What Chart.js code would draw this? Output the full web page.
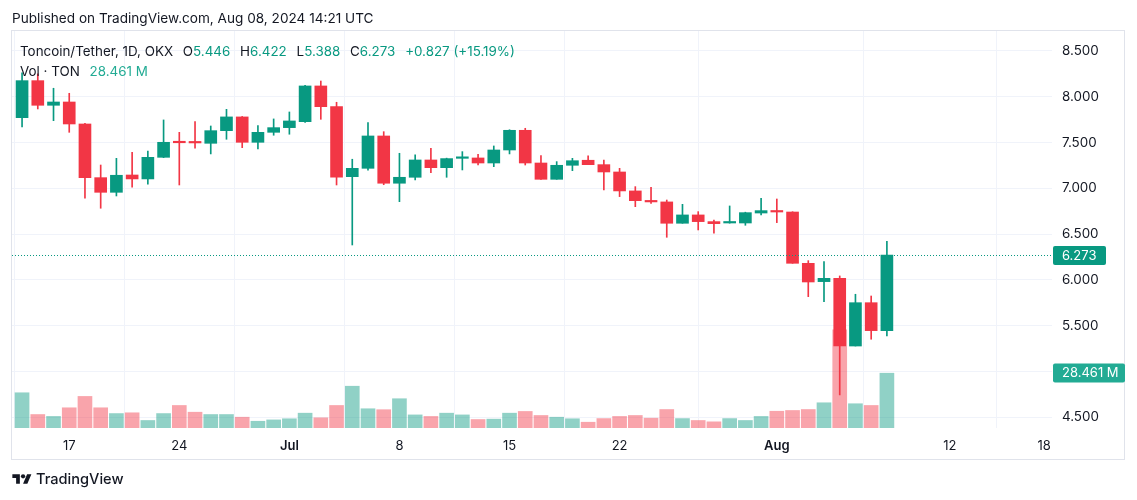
<!DOCTYPE html>
<html><head><meta charset="utf-8">
<script src="https://cdn.jsdelivr.net/npm/chart.js@4.4.1/dist/chart.umd.min.js"></script>
<style>
html,body{margin:0;padding:0;background:#fff;}
body{width:1137px;height:500px;position:relative;overflow:hidden;font-family:Inter,"Noto Sans",sans-serif;color:#131722;}
#wrap{position:absolute;left:0;top:0;width:1137px;height:500px;}
.t{position:absolute;white-space:nowrap;line-height:1;}
#pub{left:12px;top:12px;font-size:13.6px;}
#leg1{left:20px;top:45px;font-size:13.4px;}
#leg2{left:20px;top:65px;font-size:13.4px;}
.g{color:#089981;}
.vg{color:#22ab94;}
.sp{margin-left:6px;}
#foot{left:12px;top:472px;font-size:14.6px;font-weight:500;display:flex;align-items:center;}
#foot svg{margin-right:4px;}
</style>
</head><body>
<div id="wrap"><canvas id="c" width="1137" height="500"></canvas></div>
<div class="t" id="pub">Published on TradingView.com, Aug 08, 2024 14:21 UTC</div>
<div class="t" id="leg1">Toncoin/Tether, 1D, OKX <span class="sp">O</span><span class="g">5.446</span> <span class="sp">H</span><span class="g">6.422</span> <span class="sp">L</span><span class="g">5.388</span> <span class="sp">C</span><span class="g">6.273</span> <span class="g sp">+0.827 (+15.19%)</span></div>
<div class="t" id="leg2">Vol · TON <span class="vg sp">28.461 M</span></div>
<div class="t" id="foot"><svg width="20" height="15" viewBox="0 0 36 28"><path fill="#131722" d="M14 22H7V11H0V4h14v18zM28 22h-8l7.5-18h8L28 22z"/><circle fill="#131722" cx="20" cy="8" r="4"/></svg>TradingView</div>
<script>
const dates = ["2024-06-14","2024-06-15","2024-06-16","2024-06-17","2024-06-18","2024-06-19","2024-06-20","2024-06-21","2024-06-22","2024-06-23","2024-06-24","2024-06-25","2024-06-26","2024-06-27","2024-06-28","2024-06-29","2024-06-30","2024-07-01","2024-07-02","2024-07-03","2024-07-04","2024-07-05","2024-07-06","2024-07-07","2024-07-08","2024-07-09","2024-07-10","2024-07-11","2024-07-12","2024-07-13","2024-07-14","2024-07-15","2024-07-16","2024-07-17","2024-07-18","2024-07-19","2024-07-20","2024-07-21","2024-07-22","2024-07-23","2024-07-24","2024-07-25","2024-07-26","2024-07-27","2024-07-28","2024-07-29","2024-07-30","2024-07-31","2024-08-01","2024-08-02","2024-08-03","2024-08-04","2024-08-05","2024-08-06","2024-08-07","2024-08-08"];
const opens  = [7.772,8.176,7.907,7.943,7.703,7.117,6.957,7.146,7.103,7.339,7.512,7.510,7.492,7.630,7.780,7.503,7.612,7.663,7.728,8.118,7.892,7.128,7.219,7.572,7.056,7.121,7.310,7.226,7.328,7.332,7.277,7.419,7.634,7.277,7.099,7.252,7.307,7.259,7.179,6.972,6.866,6.852,6.619,6.710,6.637,6.622,6.622,6.731,6.757,6.742,6.182,5.982,6.018,5.279,5.752,5.446];
const highs  = [8.260,8.250,8.093,8.038,7.710,7.255,7.328,7.394,7.408,7.747,7.612,7.728,7.681,7.863,7.785,7.685,7.758,7.834,8.125,8.172,7.940,7.318,7.717,7.619,7.383,7.365,7.438,7.330,7.401,7.372,7.463,7.640,7.656,7.357,7.292,7.328,7.354,7.310,7.219,7.019,7.012,6.873,6.826,6.746,6.655,6.808,6.740,6.892,6.884,6.745,6.211,6.200,6.044,5.844,5.825,6.422];
const lows   = [7.670,7.867,7.739,7.612,6.892,6.783,6.917,7.012,7.045,7.335,7.037,7.438,7.376,7.536,7.444,7.430,7.580,7.591,7.720,7.754,7.037,6.382,7.200,7.040,6.855,7.092,7.171,7.121,7.201,7.255,7.237,7.376,7.255,7.099,7.099,7.193,7.259,6.983,6.910,6.800,6.837,6.466,6.619,6.546,6.510,6.620,6.597,6.710,6.626,6.182,5.818,5.763,4.745,5.279,5.353,5.388];
const closes = [8.176,7.907,7.943,7.703,7.117,6.957,7.143,7.103,7.339,7.503,7.498,7.496,7.630,7.780,7.503,7.612,7.663,7.736,8.118,7.892,7.121,7.219,7.572,7.056,7.121,7.310,7.226,7.325,7.340,7.277,7.419,7.634,7.277,7.099,7.252,7.302,7.259,7.179,6.972,6.866,6.852,6.619,6.710,6.637,6.615,6.633,6.735,6.757,6.742,6.182,5.978,6.018,5.279,5.752,5.447,6.273];
const volumes = [18.3,7.0,6.0,10.5,16.4,10.5,7.5,7.9,3.9,7.5,11.7,8.2,7.0,7.0,5.6,3.5,4.2,4.8,7.7,5.3,11.7,21.7,10.0,9.5,15.2,6.8,6.0,7.7,6.8,4.4,4.6,7.7,8.6,6.5,5.6,4.8,3.0,4.9,6.0,6.5,5.1,9.6,4.9,3.9,3.2,4.9,3.9,6.0,8.7,9.1,9.6,13.1,51.0,12.6,11.7,28.461];
const tickDates = ["2024-06-17","2024-06-24","2024-07-01","2024-07-08","2024-07-15","2024-07-22","2024-08-01","2024-08-12","2024-08-18"];
const tickLabels = ["17","24","Jul","8","15","22","Aug","12","18"];
const priceTicks = [4.5,5.0,5.5,6.0,6.5,7.0,7.5,8.0,8.5];

const UP = '#089981', DOWN = '#F23645';
const UPV = 'rgba(8,153,129,0.45)', DOWNV = 'rgba(242,54,69,0.45)';
const t0 = Date.parse(dates[0]);
const dayOf = d => Math.round((Date.parse(d) - t0) / 864e5);
const xs = dates.map(dayOf);
const isUp = i => closes[i] >= opens[i];

const bodyData = xs.map((x,i)=>({x, y:[opens[i], closes[i]]}));
const wickData = xs.map((x,i)=>({x, y:[lows[i], highs[i]]}));
const volData  = xs.map((x,i)=>({x, y:volumes[i]}));
const tickDays = tickDates.map(dayOf);

Chart.defaults.font.family = 'Inter, "Noto Sans", sans-serif';
Chart.defaults.color = '#131722';

const overlay = {
  id:'overlay',
  afterDraw(chart){
    const {ctx, chartArea:a, scales} = chart;
    ctx.save();
    ctx.strokeStyle = '#E0E3EB'; ctx.lineWidth = 1;
    ctx.strokeRect(11.5, 30.5, 1113, 429);
    const last = closes.length-1;
    const py = Math.round(scales.y.getPixelForValue(closes[last])) + 0.5;
    ctx.strokeStyle = UP; ctx.setLineDash([1,2]);
    ctx.beginPath(); ctx.moveTo(a.left, py); ctx.lineTo(a.right, py); ctx.stroke();
    ctx.setLineDash([]);
    ctx.font = '13px Inter, "Noto Sans", sans-serif';
    ctx.textBaseline = 'middle'; ctx.textAlign = 'left';
    ctx.fillStyle = UP;
    ctx.beginPath(); ctx.roundRect(a.right+1, py-9.5, 53, 19, 2); ctx.fill();
    ctx.fillStyle = '#fff'; ctx.fillText(closes[last].toFixed(3), a.right+10, py+0.5);
    const vy = Math.round(scales.yv.getPixelForValue(volumes[last]));
    ctx.fillStyle = '#22ab94';
    ctx.beginPath(); ctx.roundRect(a.right+1, vy-9.5, 72, 19, 2); ctx.fill();
    ctx.fillStyle = '#fff'; ctx.fillText(volumes[last].toFixed(3)+' M', a.right+10, vy+0.5);
    ctx.restore();
  }
};

new Chart(document.getElementById('c'), {
  type:'bar',
  data:{datasets:[
    {label:'body', data:bodyData, order:1, grouped:false, barThickness:12, minBarLength:1.5,
     backgroundColor: ctx => isUp(ctx.dataIndex)?UP:DOWN, borderWidth:0, yAxisID:'y'},
    {label:'wick', data:wickData, order:2, grouped:false, barThickness:1,
     backgroundColor: ctx => isUp(ctx.dataIndex)?UP:DOWN, borderWidth:0, yAxisID:'y'},
    {label:'vol', data:volData, order:3, grouped:false, barThickness:14,
     backgroundColor: ctx => isUp(ctx.dataIndex)?UPV:DOWNV, borderWidth:0, yAxisID:'yv'}
  ]},
  options:{
    responsive:false, animation:false,
    layout:{padding:{left:12, top:31, right:12, bottom:40}},
    plugins:{legend:{display:false}, tooltip:{enabled:false}},
    scales:{
      x:{type:'linear', min:-0.64, max:65.5, offset:false,
        afterBuildTicks: s => { s.ticks = tickDays.map(v=>({value:v})); },
        afterFit: s => { s.height = 32; },
        grid:{color:'#F0F3FA', drawTicks:false},
        border:{display:false},
        ticks:{padding:10, maxRotation:0, autoSkip:false,
          callback:(v,i)=>tickLabels[i],
          font: c => ({size:13, weight: (c.tick && (tickLabels[c.index]==='Jul'||tickLabels[c.index]==='Aug'))?'600':'400'}),
          color:'#131722'}},
      y:{position:'right', min:4.384, max:8.718,
        afterBuildTicks: s => { s.ticks = priceTicks.map(v=>({value:v})); },
        afterFit: s => { s.width = 73; },
        grid:{color:'#F0F3FA', drawTicks:false},
        border:{display:false},
        ticks:{padding:10, callback:v=>Number(v).toFixed(3), font:{size:13.4}, color:'#131722'}},
      yv:{display:false, min:0, max:206.2, grid:{display:false}}
    }
  },
  plugins:[overlay]
});
</script>
</body></html>
